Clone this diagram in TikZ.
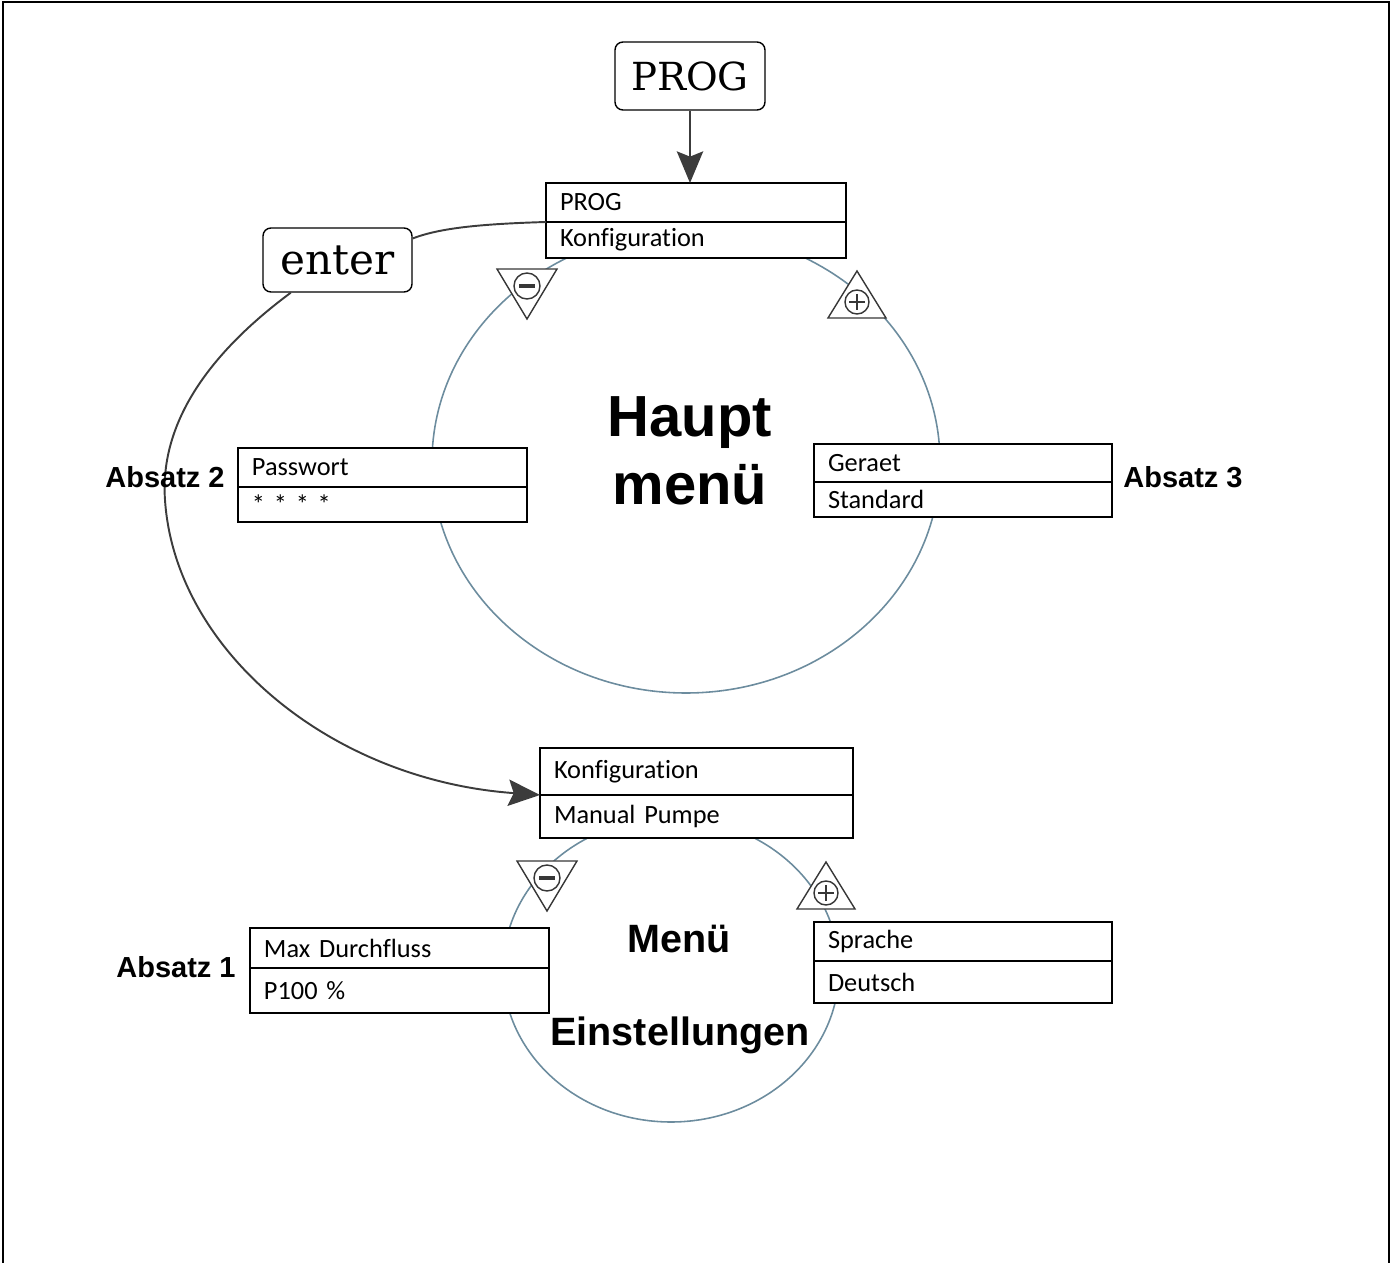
\documentclass[tikz,border=0pt]{standalone}
\usepackage{fontspec}
\setmainfont{Liberation Sans}
\newfontfamily\carlito[Ligatures=NoCommon, WordSpace=0.85]{Carlito}
\newfontfamily\slabfont{DejaVu Serif}
\usepackage{tikz}
\usetikzlibrary{arrows.meta}
\definecolor{ringblue}{RGB}{108,140,158}
\definecolor{curvegray}{RGB}{60,60,60}
\definecolor{keygray}{RGB}{55,55,55}

\begin{document}
\begin{tikzpicture}[x=0.02cm, y=-0.02cm,
  menurow/.style={draw, fill=white, line width=1.3pt, anchor=north west, outer sep=0pt,
    inner xsep=0.28cm, align=left, font=\fontsize{15}{18}\selectfont\carlito},
  keycap/.style={draw, fill=white, line width=0.8pt, rounded corners=4.5pt, font=\slabfont},
  sectlabel/.style={anchor=base, font=\fontsize{16.5}{20}\selectfont\bfseries},
  ring/.style={ringblue, line width=0.9pt},
  link/.style={curvegray, line width=1.1pt},
  bigtip/.style={-{Stealth[length=18pt, width=15pt, inset=3pt]}},
  minuskey/.pic={
    \filldraw[fill=white, draw=keygray, line width=0.8pt] (-30,-17) -- (30,-17) -- (0,33) -- cycle;
    \draw[keygray, line width=0.8pt] (0,0) circle [radius=13];
    \draw[keygray, line width=2.4pt] (-8,0) -- (8,0);
  },
  pluskey/.pic={
    \filldraw[fill=white, draw=keygray, line width=0.8pt] (0,-31) -- (29,16) -- (-29,16) -- cycle;
    \draw[keygray, line width=0.8pt] (0,0) circle [radius=12];
    \draw[keygray, line width=0.8pt] (-8,0) -- (8,0) (0,-8) -- (0,8);
  }]

\useasboundingbox (0,0) rectangle (1394,1263);
\draw[line width=0.8pt] (3,1263) -- (3,2) -- (1389,2) -- (1389,1263);

\draw[ring] (686,462) ellipse [x radius=254, y radius=231];
\draw[ring] (671,970) ellipse [x radius=168, y radius=152];

\node[keycap, minimum width=3cm, minimum height=1.36cm, font=\fontsize{22}{26}\selectfont\slabfont] (progkey) at (690,76) {PROG};
\node[keycap, minimum width=2.98cm, minimum height=1.28cm, font=\fontsize{24}{28}\selectfont\slabfont] (enterkey) at (337.5,260) {enter};

\node[menurow, text width=5.44cm, minimum height=0.78cm] (progA) at (546,183) {PROG};
\node[menurow, text width=5.44cm, minimum height=0.72cm] (progB) at (progA.south west) {Konfiguration};

\node[menurow, text width=5.22cm, minimum height=0.78cm] (passA) at (238,448) {Passwort};
\node[menurow, text width=5.22cm, minimum height=0.70cm] (passB) at (passA.south west) {* * * *};

\node[menurow, text width=5.40cm, minimum height=0.76cm] (geraetA) at (814,444) {Geraet};
\node[menurow, text width=5.40cm, minimum height=0.70cm] (geraetB) at (geraetA.south west) {Standard};

\node[menurow, text width=5.70cm, minimum height=0.94cm] (konfA) at (540,748) {Konfiguration};
\node[menurow, text width=5.70cm, minimum height=0.86cm] (konfB) at (konfA.south west) {Manual Pumpe};

\node[menurow, text width=5.42cm, minimum height=0.80cm] (maxA) at (250,928) {Max Durchfluss};
\node[menurow, text width=5.42cm, minimum height=0.90cm] (maxB) at (maxA.south west) {P100 \%};

\node[menurow, text width=5.40cm, minimum height=0.78cm] (spracheA) at (814,922) {Sprache};
\node[menurow, text width=5.40cm, minimum height=0.84cm] (spracheB) at (spracheA.south west) {Deutsch};

\draw[link, bigtip] (progkey.south) -- (progkey.south |- progA.north);
\draw[link] (progA.south west) .. controls (480,224) and (440,228) .. (enterkey.16);
\draw[link, bigtip] (enterkey.215) .. controls (200,360) and (160,430) .. (165,500)
  .. controls (175,650) and (330,780) .. (konfA.south west);

\pic at (527,286) {minuskey};
\pic at (857,302) {pluskey};
\pic at (547,878) {minuskey};
\pic at (826,893) {pluskey};

\node[anchor=base, font=\fontsize{33}{40}\selectfont\bfseries] (haupt) at (690,437) {Haupt};
\node[anchor=base, font=\fontsize{33}{40}\selectfont\bfseries] (hauptmenue) at (690,505) {menü};
\node[anchor=base, font=\fontsize{22.5}{27}\selectfont\bfseries] (menue) at (679,952) {Menü};
\node[anchor=base, font=\fontsize{22.5}{27}\selectfont\bfseries] (einst) at (680,1045) {Einstellungen};

\node[sectlabel] (absatz2) at (165,488) {Absatz 2};
\node[sectlabel] (absatz3) at (1183,488) {Absatz 3};
\node[sectlabel] (absatz1) at (176,977) {Absatz 1};

\end{tikzpicture}
\end{document}
